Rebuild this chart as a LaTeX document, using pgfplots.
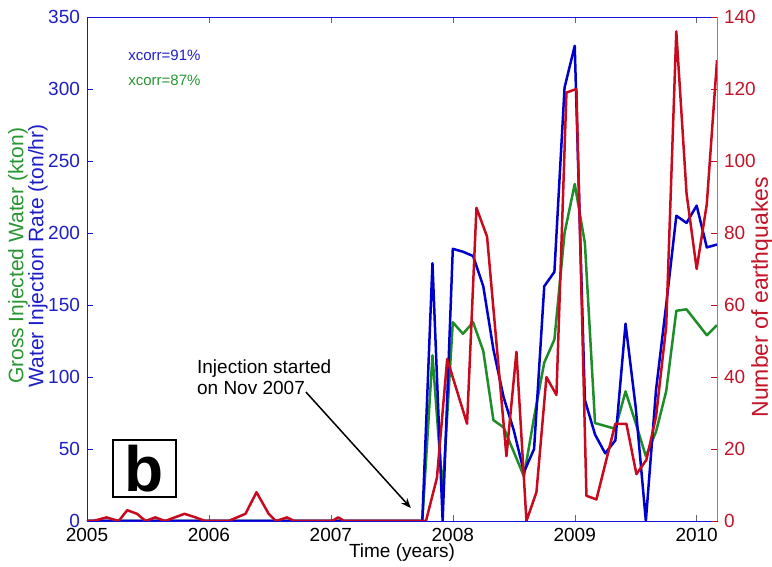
\documentclass[border=0pt]{standalone}
\usepackage{pgfplots}
\pgfplotsset{compat=1.18}
\usepackage{fontspec}
\setmainfont{Liberation Sans}
\usetikzlibrary{arrows.meta}
\definecolor{serblue}{RGB}{0,0,205}
\definecolor{sergreen}{RGB}{30,140,40}
\definecolor{serred}{RGB}{200,10,30}
\definecolor{axblue}{RGB}{20,20,225}
\definecolor{lightax}{RGB}{120,120,255}
\definecolor{lblblue}{RGB}{30,30,200}
\definecolor{lblgreen}{RGB}{40,150,50}
\definecolor{lblred}{RGB}{195,20,40}
\newcommand{\tf}{\fontsize{9.5}{11}\selectfont}
\begin{document}
\begin{tikzpicture}
\useasboundingbox (-43.5pt,-23pt) rectangle (342.5pt,260.5pt);
\begin{axis}[
  scale only axis, width=315pt, height=252pt,
  at={(0,0)}, anchor=south west,
  xmin=2005, xmax=2010.1667, ymin=0, ymax=350,
  xtick={2005,2006,2007,2008,2009,2010},
  xticklabels={2005,2006,2007,2008,2009,2010},
  ytick={0,50,...,350},
  ytick pos=left,
  tick align=inside,
  major tick length=3pt,
  axis line style={axblue},
  xtick style={gray!80!black},
  ytick style={axblue},
  tick label style={font=\tf},
  yticklabel style={text=lblblue},
  /pgf/number format/assume math mode=true,
  clip mode=individual,
  every axis plot/.append style={line width=1.25pt, line join=round},
]
\addplot[sergreen] coordinates {(2005,0) (2007.75,0) (2007.8333,115) (2007.9167,20) (2008,138) (2008.0833,130) (2008.1667,138) (2008.25,118) (2008.3333,70) (2008.4167,65) (2008.5,48) (2008.5833,31) (2008.6667,72) (2008.75,110) (2008.8333,126) (2008.9167,200) (2009,234) (2009.0833,193) (2009.1667,68) (2009.25,66) (2009.3333,64) (2009.4167,90) (2009.5,68) (2009.5833,45) (2009.6667,62) (2009.75,90) (2009.8333,146) (2009.9167,147) (2010,138) (2010.0833,129) (2010.1667,136)};
\addplot[serblue] coordinates {(2005,0) (2007.75,0) (2007.8333,179) (2007.9167,0) (2008,189) (2008.0833,187) (2008.1667,184) (2008.25,163) (2008.3333,119) (2008.4167,86) (2008.5,63) (2008.5833,34) (2008.6667,50) (2008.75,163) (2008.8333,173) (2008.9167,301) (2009,330) (2009.0833,84) (2009.1667,60) (2009.25,47) (2009.3333,56) (2009.4167,137) (2009.5,79) (2009.5833,0) (2009.6667,91) (2009.75,150) (2009.8333,212) (2009.9167,207) (2010,219) (2010.0833,190) (2010.1667,192)};
\node[lblgreen, rotate=90, font=\fontsize{10.5}{12}\selectfont] at (axis description cs:-0.1095,0.526) {Gross Injected Water (kton)};
\node[lblblue, rotate=90, font=\fontsize{10.5}{12}\selectfont] at (axis description cs:-0.0778,0.526) {Water Injection Rate (ton/hr)};
\node[font=\tf] at (axis description cs:0.5,-0.0635) {Time (years)};
\node[lblblue, anchor=west, font=\fontsize{7.5}{9}\selectfont, inner sep=0] at (axis description cs:0.065,0.9246) {xcorr=91\%};
\node[lblgreen, anchor=west, font=\fontsize{7.5}{9}\selectfont, inner sep=0] at (axis description cs:0.065,0.875) {xcorr=87\%};
\node[anchor=base west, font=\tf, inner sep=0] at (axis cs:2005.90,102.2) {Injection started};
\node[anchor=base west, font=\tf, inner sep=0] at (axis cs:2005.90,87.6) {on Nov 2007};
\draw[-{Stealth[length=5pt,width=4pt]}, line width=0.75pt] (axis cs:2006.795,89.6) -- (axis cs:2007.656,9.0);
\node[draw, line width=0.6pt, minimum width=31.5pt, minimum height=28.5pt, inner sep=0, font=\fontsize{32}{32}\selectfont\bfseries] at (axis cs:2005.471,36.5) {b};
\end{axis}
\begin{axis}[
  scale only axis, width=315pt, height=252pt,
  at={(0,0)}, anchor=south west,
  xmin=2005, xmax=2010.1667, ymin=0, ymax=140,
  axis x line=none, axis y line*=right,
  y axis line style={lightax,-},
  ytick={0,20,...,140},
  tick align=inside,
  major tick length=3pt,
  ytick style={serred},
  tick label style={font=\tf},
  yticklabel style={text=lblred},
  /pgf/number format/assume math mode=true,
  clip mode=individual,
  every axis plot/.append style={line width=1.25pt, line join=round},
]
\addplot[serred] coordinates {(2005,0) (2005.05,0) (2005.16,1) (2005.26,0) (2005.33,3) (2005.41,2) (2005.48,0) (2005.56,1) (2005.64,0) (2005.80,2) (2005.89,1) (2005.97,0) (2006.16,0) (2006.30,2) (2006.39,8) (2006.49,2) (2006.55,0) (2006.64,1) (2006.70,0) (2007.01,0) (2007.06,1) (2007.11,0) (2007.78,0) (2007.87,12) (2007.954,45) (2008.117,27) (2008.194,87) (2008.281,79) (2008.44,18) (2008.522,47) (2008.604,0) (2008.686,8) (2008.768,40) (2008.85,35) (2008.932,119) (2009.014,120) (2009.096,7) (2009.178,6) (2009.333,27) (2009.424,27) (2009.506,13) (2009.588,17) (2009.667,29) (2009.75,54) (2009.833,136) (2009.917,91) (2010,70) (2010.083,88) (2010.167,128)};
\node[lblred, rotate=90, font=\fontsize{11.5}{13}\selectfont] at (axis description cs:1.0714,0.444) {Number of earthquakes};
\end{axis}
\end{tikzpicture}
\end{document}
